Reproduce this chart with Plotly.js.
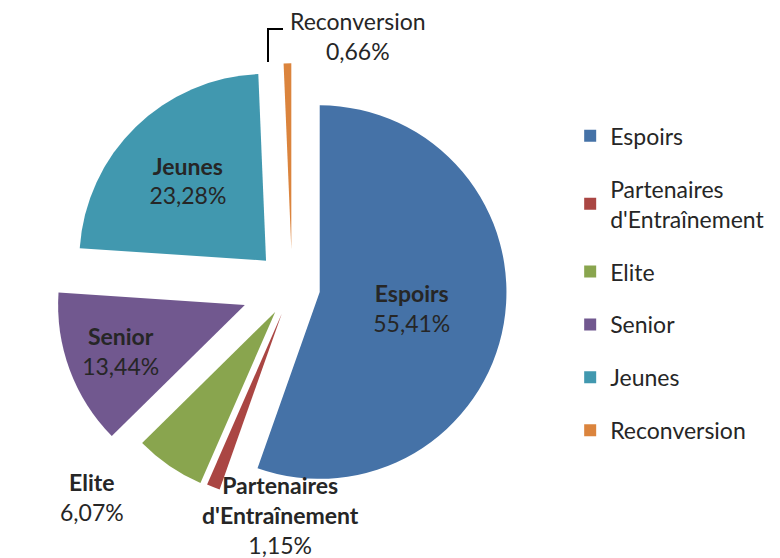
<!DOCTYPE html>
<html>
<head>
<meta charset="utf-8">
<script src="https://cdn.plot.ly/plotly-3.0.1.min.js"></script>
<style>html,body{margin:0;padding:0;background:#fff;}#chart{width:780px;height:558px;}</style>
</head>
<body>
<div id="chart"></div>
<script>
const categories = ["Espoirs", "Partenaires d'Entraînement", "Elite", "Senior", "Jeunes", "Reconversion"];
const shares = [55.41, 1.15, 6.07, 13.44, 23.28, 0.66];
const sliceLabels = ["<b>Espoirs</b>", "<b>Partenaires<br>d'Entraînement</b>", "<b>Elite</b>", "<b>Senior</b>", "<b>Jeunes</b>", "Reconversion"];
const legendLabels = ["Espoirs", "Partenaires<br>d'Entraînement", "Elite", "Senior", "Jeunes", "Reconversion"];
const colors = ["#4572A7", "#AA4643", "#89A54E", "#71588F", "#4198AF", "#DB843D"];
const insideLabel = [true, false, false, true, true, false];
const pulls = [0.15, 0.15, 0.16, 0.27, 0.2, 0.2];

const FONT = "Lato, 'Open Sans', sans-serif";
const TXT = "#262626";
const fmt = v => v.toFixed(2).replace(".", ",") + "%";
const texts = shares.map((v, i) => insideLabel[i] ? sliceLabels[i] + "<br>" + fmt(v) : "");

const traces = [{
  type: "pie",
  labels: categories,
  values: shares,
  text: texts,
  texttemplate: "%{text}",
  textinfo: "text",
  textposition: "inside",
  insidetextorientation: "horizontal",
  sort: false,
  direction: "clockwise",
  rotation: 0,
  pull: pulls,
  marker: {colors: colors, line: {color: "#ffffff", width: 0}},
  insidetextfont: {family: FONT, size: 23, color: TXT},
  domain: {x: [0.0, 0.749], y: [0.06, 0.91]},
  showlegend: false,
  hoverinfo: "label+percent"
}];

categories.forEach((c, i) => {
  traces.push({
    type: "scatter",
    x: [null], y: [null],
    mode: "markers",
    name: legendLabels[i],
    legendgroup: "g" + i,
    marker: {symbol: "square", size: 13, color: colors[i]},
    showlegend: true,
    hoverinfo: "skip"
  });
});

// outside data labels (text from the data arrays)
const outsidePos = {1: [280, 515], 2: [92, 497], 5: [358, 36]};
const annotations = Object.keys(outsidePos).map(k => {
  const i = +k;
  return {
    xref: "paper", yref: "paper",
    x: outsidePos[k][0] / 780, y: 1 - outsidePos[k][1] / 558,
    xanchor: "center", yanchor: "middle",
    showarrow: false,
    text: sliceLabels[i] + "<br>" + fmt(shares[i]),
    font: {family: FONT, size: 23, color: TXT}
  };
});

const layout = {
  width: 780, height: 558,
  margin: {l: 0, r: 0, t: 0, b: 0},
  paper_bgcolor: "#ffffff",
  plot_bgcolor: "#ffffff",
  font: {family: FONT, size: 23, color: TXT},
  xaxis: {visible: false},
  yaxis: {visible: false},
  annotations: annotations,
  shapes: [{
    type: "path", xref: "paper", yref: "paper",
    path: "M " + (283/780) + " " + (1 - 29/558) + " L " + (268/780) + " " + (1 - 29/558) + " L " + (268/780) + " " + (1 - 62/558),
    line: {color: "#000000", width: 2}
  }],
  showlegend: true,
  legend: {
    x: 0.731, y: 0.795, xanchor: "left", yanchor: "top",
    font: {family: FONT, size: 23, color: TXT},
    tracegroupgap: 20,
    itemsizing: "constant",
    bgcolor: "rgba(0,0,0,0)"
  }
};

Plotly.newPlot("chart", traces, layout, {displayModeBar: false, staticPlot: true});
</script>
</body>
</html>
